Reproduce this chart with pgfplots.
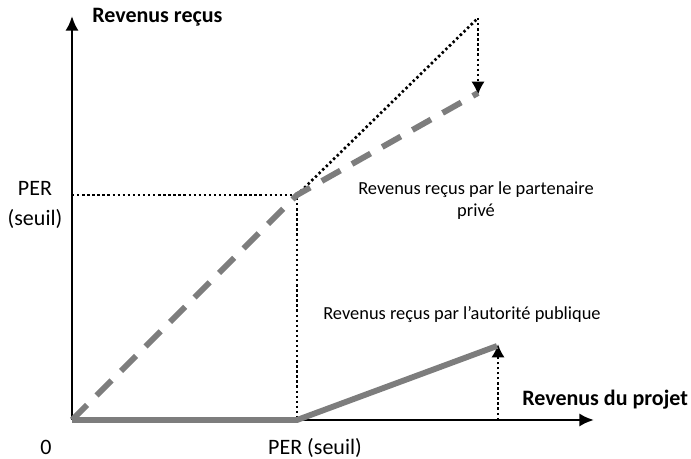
\documentclass[border=0pt]{standalone}
\usepackage{pgfplots}
\pgfplotsset{compat=1.18}
\usepackage{fontspec}
\setmainfont{Carlito}
\usetikzlibrary{arrows.meta}
\definecolor{lgray}{RGB}{125,125,125}
\begin{document}
\begin{tikzpicture}
\begin{axis}[
  scale only axis, x=0.75pt, y=0.75pt,
  xmin=-72, xmax=619, ymin=-39, ymax=420,
  axis lines=none, clip=false,
]
% axes
\addplot[black, line width=2.1pt, -{Latex[length=11pt,width=10pt]}] coordinates {(0,0) (522,0)};
\addplot[black, line width=2.1pt, -{Latex[length=11pt,width=10pt]}] coordinates {(0,0) (0,404)};
% dotted guides
\addplot[black, line width=2pt, dash pattern=on 1.8pt off 2pt] coordinates {(0,225) (225,225) (225,0)};
\addplot[black, line width=2pt, dash pattern=on 1.8pt off 2pt] coordinates {(225,225) (406,402)};
\addplot[black, line width=2pt, dash pattern=on 1.8pt off 2pt, -{Latex[length=10pt,width=10pt]}] coordinates {(406,402) (406,325)};
\addplot[black, line width=2pt, dash pattern=on 1.8pt off 2pt, -{Latex[length=10pt,width=10pt]}] coordinates {(426,0) (426,76)};
% partner (dashed)
\addplot[lgray, line width=4.4pt, dash pattern=on 16pt off 10pt] coordinates {(0,0) (225,225) (406,327)};
% public authority (solid)
\addplot[lgray, line width=4.4pt] coordinates {(0,0) (225,0) (425,74)};
% texts
\node[anchor=west, inner sep=0pt, font=\bfseries\fontsize{16.5}{18}\selectfont] at (axis cs:20,403) {Revenus reçus};
\node[anchor=west, inner sep=0pt, font=\bfseries\fontsize{16.5}{18}\selectfont] at (axis cs:450,20) {Revenus du projet};
\node[font=\fontsize{16.5}{18}\selectfont] at (axis cs:-26,-27) {0};
\node[font=\fontsize{16.5}{18}\selectfont] at (axis cs:243,-28) {PER (seuil)};
\node[align=center, font=\fontsize{16.5}{23}\selectfont] at (axis cs:-37,215) {PER\\(seuil)};
\node[align=center, font=\fontsize{13.8}{16.5}\selectfont] at (axis cs:404,219) {Revenus reçus par le partenaire\\privé};
\node[font=\fontsize{13.8}{16}\selectfont] at (axis cs:390,105) {Revenus reçus par l’autorité publique};
\end{axis}
\pgfresetboundingbox
\useasboundingbox (current axis.south west) rectangle (current axis.north east);
\end{tikzpicture}
\end{document}
